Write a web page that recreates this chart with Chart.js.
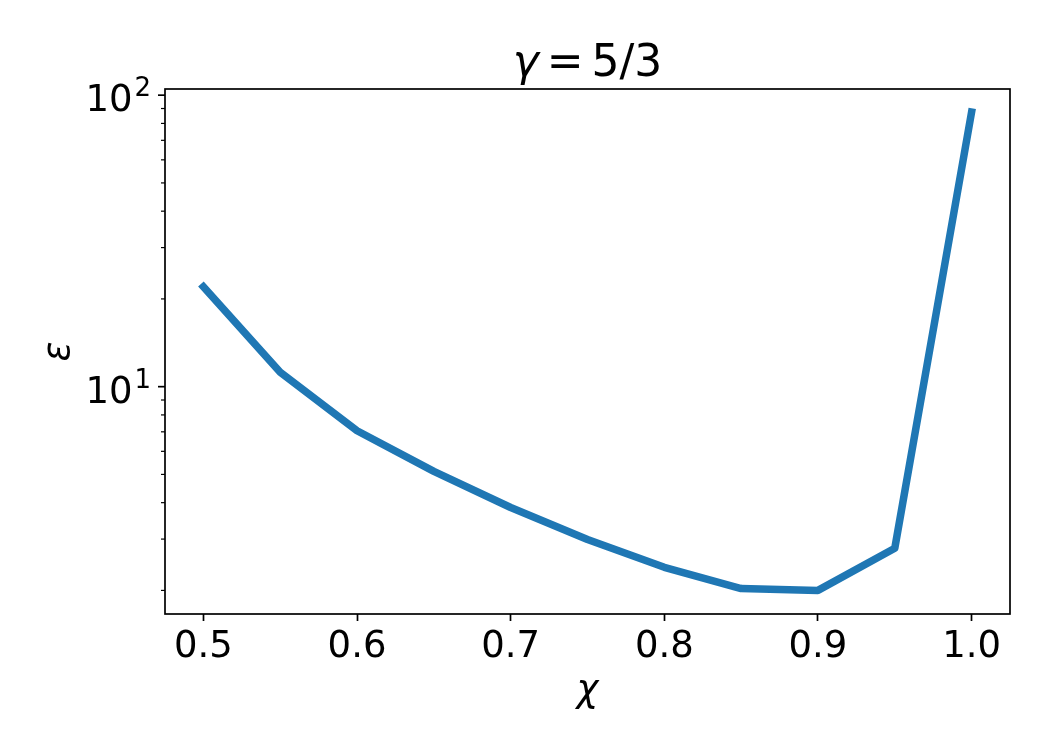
<!DOCTYPE html>
<html lang="en">
<head>
  <meta charset="UTF-8" />
  <title>gamma = 5/3</title>
  <script src="https://cdn.jsdelivr.net/npm/chart.js"></script>
  <style>
    body { margin: 0; background: #fff; }
    canvas { display: block; }
  </style>
</head>
<body>
  <canvas id="chart" width="1050" height="750"></canvas>
  <script>
    const chiValues = [0.5, 0.55, 0.6, 0.65, 0.7, 0.75, 0.8, 0.85, 0.9, 0.95, 1.0];
    const epsValues = [22.0, 11.2, 7.06, 5.12, 3.85, 2.99, 2.40, 2.03, 2.00, 2.79, 87.5];
    const xTicks = [0.5, 0.6, 0.7, 0.8, 0.9, 1.0];
    const yMajorTicks = [10, 100];
    const yMajorLabels = ['1', '2'];   // exponents of 10
    const yMinorTicks = [2, 3, 4, 5, 6, 7, 8, 9, 20, 30, 40, 50, 60, 70, 80, 90];

    const FONT = 'DejaVu Sans';

    // frame, log ticks, title and axis labels
    const decorations = {
      id: 'decorations',
      afterDraw(chart) {
        const c = chart.ctx;
        const a = chart.chartArea;
        const ys = chart.scales.y;
        c.save();

        // axes frame
        c.strokeStyle = '#000';
        c.lineWidth = 1.7;
        c.strokeRect(a.left, a.top, a.right - a.left, a.bottom - a.top);

        // y ticks
        c.lineWidth = 1.7;
        yMajorTicks.forEach(v => {
          const y = ys.getPixelForValue(v);
          c.beginPath(); c.moveTo(a.left - 7, y); c.lineTo(a.left, y); c.stroke();
        });
        c.lineWidth = 1.2;
        yMinorTicks.forEach(v => {
          const y = ys.getPixelForValue(v);
          c.beginPath(); c.moveTo(a.left - 4, y); c.lineTo(a.left, y); c.stroke();
        });

        // y tick labels 10^n
        c.fillStyle = '#000';
        c.textAlign = 'right';
        c.textBaseline = 'alphabetic';
        yMajorTicks.forEach((v, i) => {
          const y = ys.getPixelForValue(v);
          c.font = '26px "' + FONT + '"';
          const supW = c.measureText(yMajorLabels[i]).width;
          c.fillText(yMajorLabels[i], 151, y + 1);
          c.font = '37px "' + FONT + '"';
          c.fillText('10', 151 - supW - 2, y + 16);
        });

        // title: italic gamma, tight spacing round "="
        const cx = (a.left + a.right) / 2;
        const gap = 8;
        c.font = 'italic 44px "' + FONT + '"';
        const gW = c.measureText('γ').width;
        c.font = '44px "' + FONT + '"';
        const eqW = c.measureText('=').width;
        const fW = c.measureText('5/3').width;
        let x0 = cx - (gW + eqW + fW + 2 * gap) / 2;
        c.textAlign = 'left';
        c.font = 'italic 44px "' + FONT + '"';
        c.fillText('γ', x0, 76);
        c.font = '44px "' + FONT + '"';
        c.fillText('=', x0 + gW + gap, 76);
        c.fillText('5/3', x0 + gW + eqW + 2 * gap, 76);

        // x label
        c.textAlign = 'center';
        c.font = 'italic 37px "' + FONT + '"';
        c.fillText('χ', cx, 701);

        // y label
        c.translate(69, (a.top + a.bottom) / 2);
        c.rotate(-Math.PI / 2);
        c.fillText('ε', 0, 0);
        c.restore();
      }
    };

    new Chart(document.getElementById('chart').getContext('2d'), {
      type: 'line',
      data: {
        datasets: [{
          data: chiValues.map((x, i) => ({ x: x, y: epsValues[i] })),
          borderColor: '#1f77b4',
          borderWidth: 7.5,
          borderCapStyle: 'square',
          borderJoinStyle: 'round',
          pointRadius: 0,
          tension: 0,
          fill: false
        }]
      },
      options: {
        responsive: false,
        animation: false,
        devicePixelRatio: 1,
        layout: { padding: { top: 89, right: 40, left: 0, bottom: 0 } },
        plugins: { legend: { display: false }, tooltip: { enabled: false } },
        scales: {
          x: {
            type: 'linear',
            min: 0.475,
            max: 1.025,
            afterBuildTicks: s => { s.ticks = xTicks.map(v => ({ value: v })); },
            afterFit: s => { s.height = 136; },
            grid: { drawOnChartArea: false, drawTicks: true, tickLength: 7, tickWidth: 1.7, tickColor: '#000' },
            border: { display: false },
            ticks: {
              font: { family: FONT, size: 37 },
              color: '#000',
              padding: 4,
              maxRotation: 0,
              autoSkip: false,
              callback: v => v.toFixed(1)
            }
          },
          y: {
            type: 'logarithmic',
            min: 1.66,
            max: 105,
            afterFit: s => { s.width = 165; },
            grid: { display: false },
            border: { display: false },
            ticks: { display: false }
          }
        }
      },
      plugins: [decorations]
    });
  </script>
</body>
</html>
